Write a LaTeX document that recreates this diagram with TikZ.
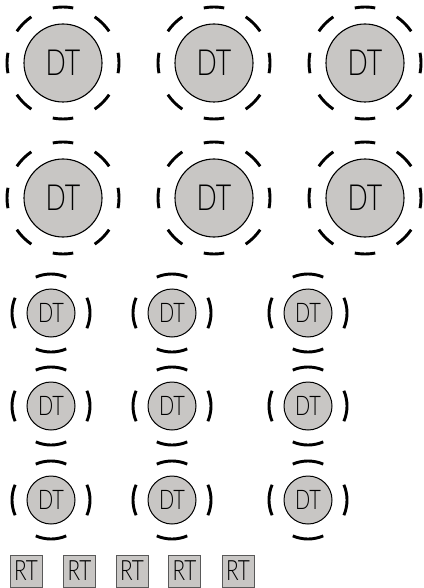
\documentclass[tikz,border=0pt]{standalone}
\usepackage{fontspec}
\newfontfamily\dtfont[FakeStretch=0.74]{Lato Light}
\definecolor{dtgray}{RGB}{200,198,196}
\begin{document}
\begin{tikzpicture}[x=1pt,y=-1pt,
  bigdt/.style={circle, draw=black, line width=1.1pt, fill=dtgray, minimum size=78pt, inner sep=0pt, font=\dtfont\fontsize{36}{36}\selectfont},
  smalldt/.style={circle, draw=black, line width=1pt, fill=dtgray, minimum size=48pt, inner sep=0pt, font=\dtfont\fontsize{27}{27}\selectfont},
  rtbox/.style={rectangle, draw=black!65, line width=1pt, fill=dtgray, minimum width=32pt, minimum height=32pt, inner sep=0pt, font=\dtfont\fontsize{28}{28}\selectfont},
  ring/.style={line width=2.9pt, black}]
\useasboundingbox (0,0) rectangle (423,588);
\foreach \x [count=\i] in {63,214,365}{
  \foreach \y [count=\j] in {63,198}{
    \node[bigdt] (L\j\i) at (\x,\y) {DT};
    \foreach \a in {0,45,...,315}
      \draw[ring] (L\j\i.center) ++(\a-10.5:56) arc (\a-10.5:\a+10.5:56);
  }
}
\foreach \x [count=\i] in {51,172,308}{
  \foreach \y [count=\j] in {313,406,500}{
    \node[smalldt] (S\j\i) at (\x,\y) {DT};
    \foreach \a in {0,90,180,270}
      \draw[ring] (S\j\i.center) ++(\a-23:39) arc (\a-23:\a+23:39);
  }
}
\foreach \x [count=\i] in {26,79.5,132,184.5,238}
  \node[rtbox] (R\i) at (\x,571) {RT};
\end{tikzpicture}
\end{document}
